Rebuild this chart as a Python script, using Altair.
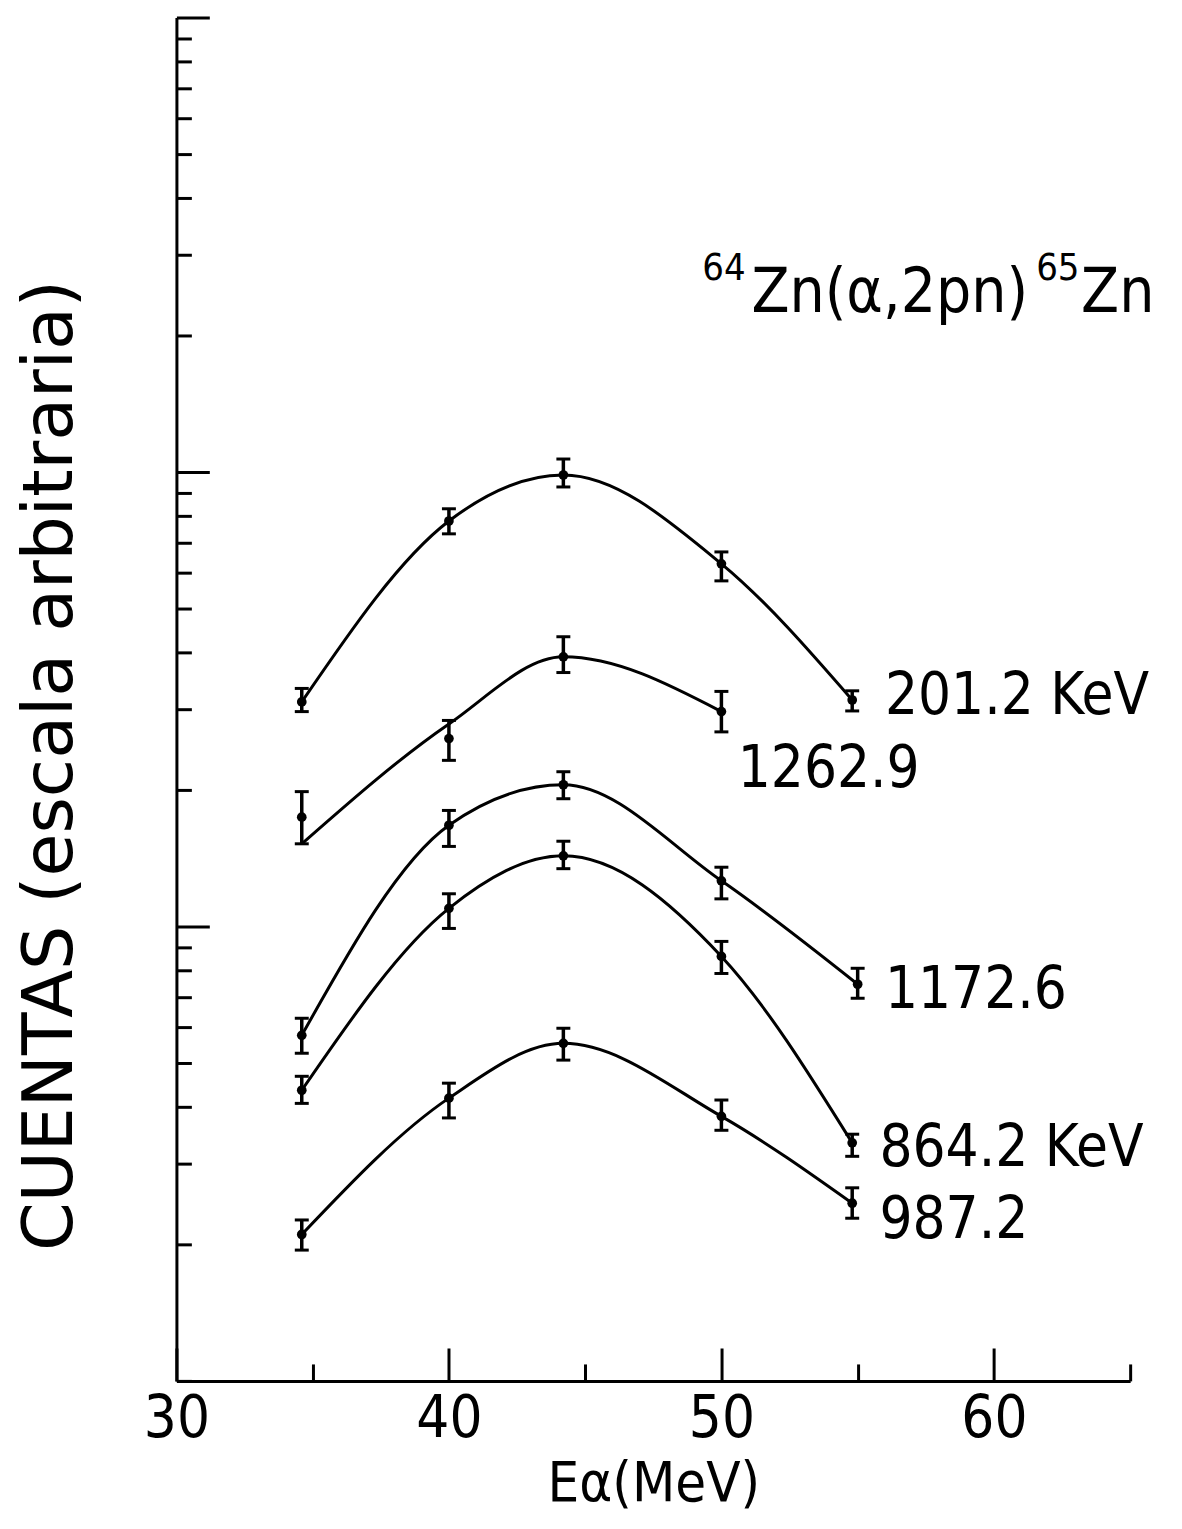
import altair as alt
import pandas as pd

# ---------------- data ----------------
series_names = ["201.2", "1262.9", "1172.6", "864.2", "987.2"]

s201_x = [34.6, 40.0, 44.2, 50.0, 54.8]
s201_y = [31.2, 78.0, 98.5, 62.8, 31.5]
s201_lo = [29.7, 73.1, 92.7, 57.6, 29.8]
s201_hi = [33.4, 83.0, 106.8, 66.7, 33.0]
s201_curve = [31.2, 78.0, 98.5, 62.8, 31.5]

s1262_x = [34.6, 40.0, 44.2, 50.0]
s1262_y = [17.4, 25.9, 39.2, 29.7]
s1262_lo = [15.2, 23.2, 36.2, 26.8]
s1262_hi = [19.8, 28.4, 43.4, 32.9]
s1262_curve = [15.2, 27.9, 39.2, 29.7]

s1172_x = [34.6, 40.0, 44.2, 50.0, 55.0]
s1172_y = [5.76, 16.7, 20.5, 12.6, 7.46]
s1172_lo = [5.26, 15.0, 19.1, 11.5, 6.95]
s1172_hi = [6.28, 18.0, 21.9, 13.5, 8.09]
s1172_curve = [5.76, 16.7, 20.5, 12.6, 7.46]

s864_x = [34.6, 40.0, 44.2, 50.0, 54.8]
s864_y = [4.36, 10.96, 14.3, 8.59, 3.34]
s864_lo = [4.08, 9.90, 13.4, 7.88, 3.12]
s864_hi = [4.68, 11.8, 15.4, 9.27, 3.49]
s864_curve = [4.36, 10.96, 14.3, 8.59, 3.34]

s987_x = [34.6, 40.0, 44.2, 50.0, 54.8]
s987_y = [2.10, 4.19, 5.53, 3.82, 2.46]
s987_lo = [1.94, 3.79, 5.08, 3.56, 2.28]
s987_hi = [2.26, 4.52, 5.97, 4.15, 2.66]
s987_curve = [2.10, 4.19, 5.53, 3.82, 2.46]

label_text = ["201.2 KeV", "1262.9", "1172.6", "864.2 KeV", "987.2"]
label_x = [56.0, 50.6, 56.0, 55.8, 55.8]
label_y = [29.4, 20.3, 6.60, 2.97, 2.06]

title_main_text = ["Zn(α,2pn)", "Zn"]
title_main_x = [51.1, 63.2]
title_main_y = [224.7, 224.7]
title_sup_text = ["64", "65"]
title_sup_x = [49.3, 61.55]
title_sup_y = [264.0, 264.0]

x_tick_values = [30, 35, 40, 45, 50, 55, 60, 65]
x_label_values = [30, 40, 50, 60]
y_tick_values = [1, 2, 3, 4, 5, 6, 7, 8, 9,
                 10, 20, 30, 40, 50, 60, 70, 80, 90,
                 100, 200, 300, 400, 500, 600, 700, 800, 900, 1000]

# ---------------- tables ----------------
xs = [s201_x, s1262_x, s1172_x, s864_x, s987_x]
ys = [s201_y, s1262_y, s1172_y, s864_y, s987_y]
los = [s201_lo, s1262_lo, s1172_lo, s864_lo, s987_lo]
his = [s201_hi, s1262_hi, s1172_hi, s864_hi, s987_hi]
curves = [s201_curve, s1262_curve, s1172_curve, s864_curve, s987_curve]

pts_rows, curve_rows = [], []
for name, sx, sy, slo, shi, sc in zip(series_names, xs, ys, los, his, curves):
    for a, b, c, d, e in zip(sx, sy, slo, shi, sc):
        pts_rows.append({"series": name, "x": a, "y": b, "lo": c, "hi": d})
        curve_rows.append({"series": name, "x": a, "y": e})
pts = pd.DataFrame(pts_rows)
crv = pd.DataFrame(curve_rows)
labels = pd.DataFrame({"label": label_text, "x": label_x, "y": label_y})
tmain = pd.DataFrame({"t": title_main_text, "x": title_main_x, "y": title_main_y})
tsup = pd.DataFrame({"t": title_sup_text, "x": title_sup_x, "y": title_sup_y})

W, H = 957, 1368
CONDFONT = "DejaVu Sans Condensed, DejaVu Sans"
XS = alt.Scale(domain=[30, 65], nice=False, zero=False)
YS = alt.Scale(type="log", domain=[1, 1000], nice=False)

# main axes: domain lines, labels, titles (no ticks)
x_axis_main = alt.Axis(
    orient="bottom", values=x_label_values, ticks=False, domain=True,
    domainColor="black", domainWidth=3, grid=False, labelFlush=False,
    labelFont=CONDFONT, labelFontSize=58, labelColor="black", labelPadding=10,
    title="Eα(MeV)", titleFont=CONDFONT, titleFontSize=56, titleFontWeight="normal",
    titleColor="black", titlePadding=8,
)
y_axis_main = alt.Axis(
    orient="left", values=y_tick_values, ticks=False, labels=False, domain=True,
    domainColor="black", domainWidth=3, grid=False,
    title="CUENTAS (escala arbitraria)", titleFont="DejaVu Sans", titleFontSize=70,
    titleFontWeight="normal", titleColor="black", titlePadding=90, titleY=750,
)
# inward-pointing tick axes
x_axis_ticks = alt.Axis(
    orient="top", offset=-H, values=x_tick_values, labels=False, domain=False,
    grid=False, ticks=True, tickColor="black", tickWidth=3,
    tickSize={"condition": {"test": "datum.value % 10 == 0", "value": 33}, "value": 17},
    title="",
)
y_axis_ticks = alt.Axis(
    orient="right", offset=-W, values=y_tick_values, labels=False, domain=False,
    grid=False, ticks=True, tickColor="black", tickWidth=3,
    tickSize={"condition": {"test": "datum.value == 10 || datum.value == 100 || datum.value == 1000",
                            "value": 33}, "value": 15},
    title="",
)

points = alt.Chart(pts).mark_point(filled=True, size=95, color="black", opacity=1).encode(
    x=alt.X("x:Q", scale=XS, axis=x_axis_main),
    y=alt.Y("y:Q", scale=YS, axis=y_axis_main),
)

lines = alt.Chart(crv).mark_line(interpolate="monotone", color="black", strokeWidth=3).encode(
    x=alt.X("x:Q", scale=XS, axis=x_axis_ticks),
    y=alt.Y("y:Q", scale=YS, axis=y_axis_ticks),
    detail="series:N",
)

bars = alt.Chart(pts).mark_rule(color="black", strokeWidth=3.5).encode(
    x=alt.X("x:Q", scale=XS, axis=None),
    y=alt.Y("lo:Q", scale=YS, axis=None),
    y2="hi:Q",
)

caps = alt.Chart(pts).transform_fold(["lo", "hi"], as_=["which", "cap"]).mark_tick(
    orient="horizontal", size=14, thickness=3, color="black", opacity=1
).encode(
    x=alt.X("x:Q", scale=XS, axis=None),
    y=alt.Y("cap:Q", scale=YS, axis=None),
)

label_layer = alt.Chart(labels).mark_text(
    align="left", baseline="alphabetic", font=CONDFONT, fontSize=58, color="black"
).encode(
    x=alt.X("x:Q", scale=XS, axis=None),
    y=alt.Y("y:Q", scale=YS, axis=None),
    text="label:N",
)

title_main_layer = alt.Chart(tmain).mark_text(
    align="left", baseline="alphabetic", font=CONDFONT, fontSize=62, color="black"
).encode(
    x=alt.X("x:Q", scale=XS, axis=None),
    y=alt.Y("y:Q", scale=YS, axis=None),
    text="t:N",
)

title_sup_layer = alt.Chart(tsup).mark_text(
    align="left", baseline="alphabetic", font=CONDFONT, fontSize=38, color="black"
).encode(
    x=alt.X("x:Q", scale=XS, axis=None),
    y=alt.Y("y:Q", scale=YS, axis=None),
    text="t:N",
)

chart = alt.layer(
    lines, bars, caps, points, label_layer, title_main_layer, title_sup_layer
).resolve_axis(
    x="independent", y="independent"
).properties(
    width=W, height=H,
    autosize=alt.AutoSizeParams(type="none"),
    padding={"left": 169, "top": 7, "right": 44, "bottom": 138},
    background="white",
).configure_view(stroke=None)

chart.save("out.html", embed_options={"renderer": "svg", "actions": False})
